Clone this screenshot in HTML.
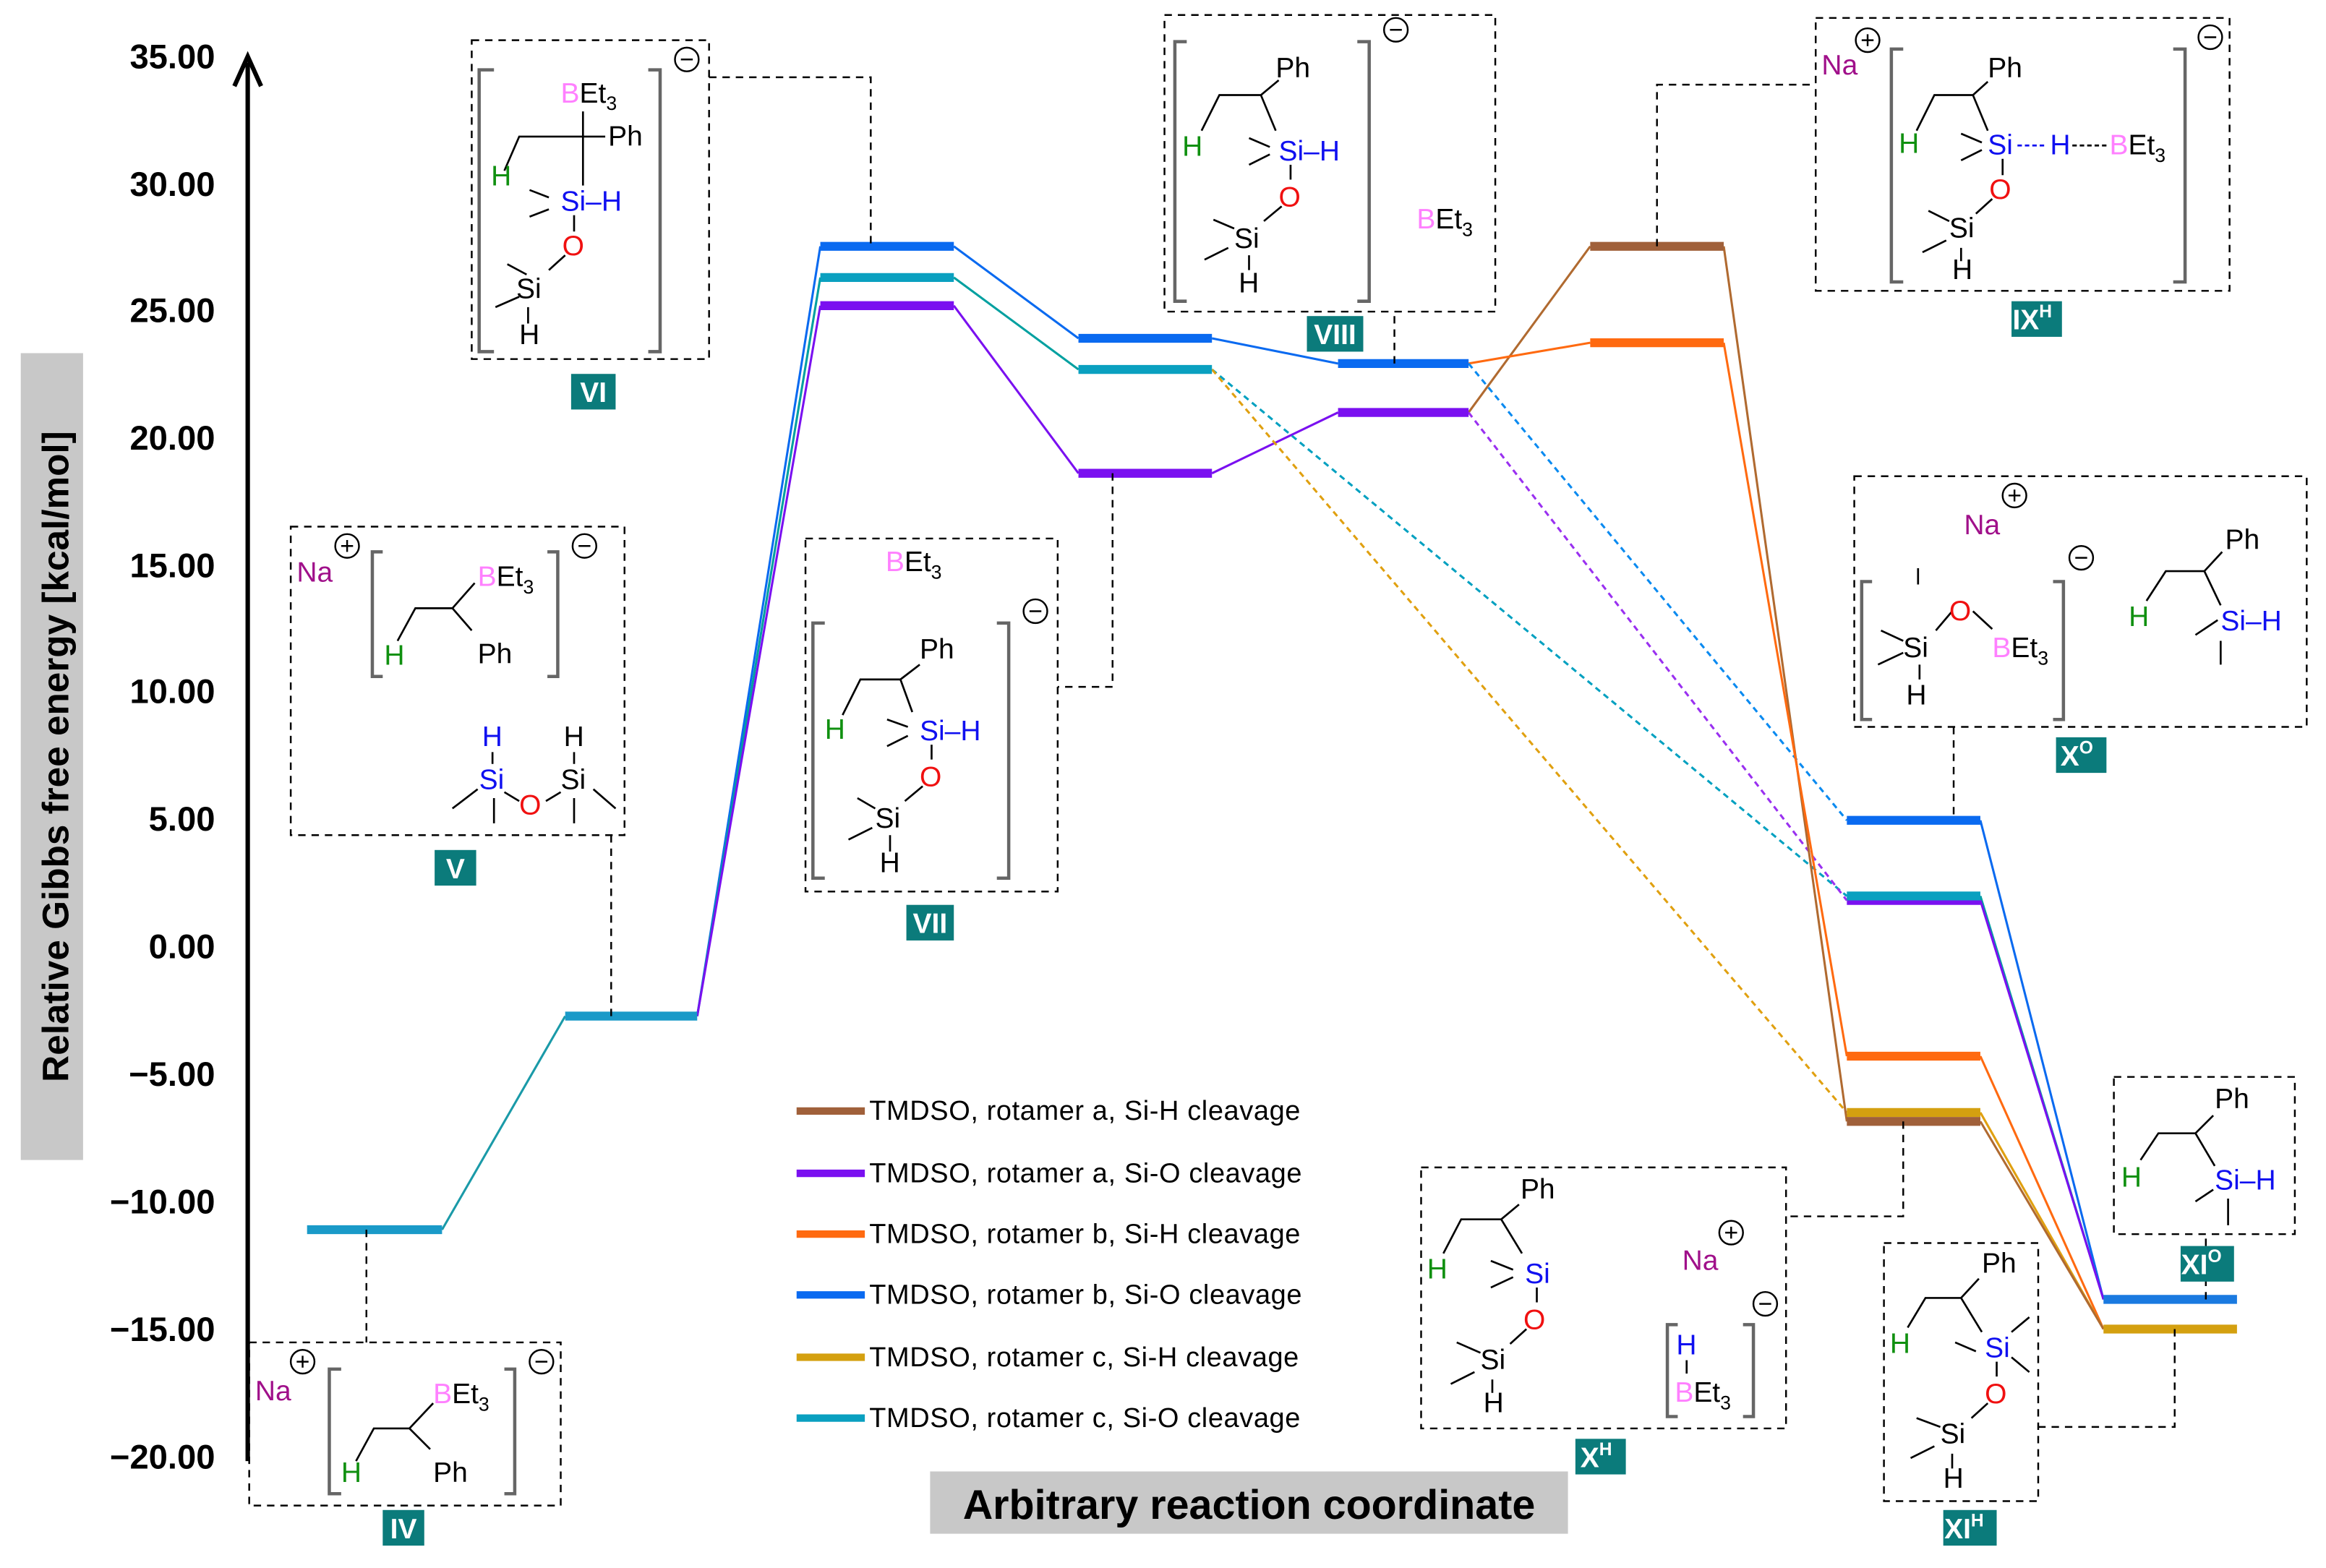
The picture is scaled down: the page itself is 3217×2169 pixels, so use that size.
<!DOCTYPE html>
<html><head><meta charset="utf-8"><style>
html,body{margin:0;padding:0;background:#fff}
svg{display:block}
text{font-family:"Liberation Sans",Arial,sans-serif}
.tk{font-size:23px;font-weight:bold;fill:#000}
.s{font-size:19px;fill:#000}
.g{fill:#109010}.b{fill:#1010f0}.r{fill:#f01010}.p{fill:#ff80ff}.n{fill:#a0108a}
.sub{font-size:13px}
.bx{fill:none;stroke:#000;stroke-width:1.2;stroke-dasharray:5,4}
.br{fill:none;stroke:#666;stroke-width:2.2}
.bd{stroke:#000;stroke-width:1.3;fill:none}
.lg{font-size:18.5px;fill:#000;letter-spacing:0.3px}
.lab{fill:#0b7b7b}
.lt{font-size:19px;font-weight:bold;fill:#fff}
.dc{fill:none;stroke:#000;stroke-width:1.2;stroke-dasharray:5,4}
</style></head><body>
<svg width="3217" height="2169" viewBox="0 0 1568 1057" xmlns="http://www.w3.org/2000/svg">
<rect width="1568" height="1057" fill="#fff"/>
<line x1="167" y1="985" x2="167" y2="42" stroke="#000" stroke-width="3"/>
<path d="M158,58 L167,38 L176,58" fill="none" stroke="#000" stroke-width="3"/>
<g class="tk" text-anchor="end">
<text x="145" y="46">35.00</text><text x="145" y="132">30.00</text><text x="145" y="217">25.00</text>
<text x="145" y="303">20.00</text><text x="145" y="389">15.00</text><text x="145" y="474">10.00</text>
<text x="145" y="560">5.00</text><text x="145" y="646">0.00</text><text x="145" y="732">−5.00</text>
<text x="145" y="818">−10.00</text><text x="145" y="904">−15.00</text><text x="145" y="990">−20.00</text>
</g>
<rect x="14" y="238" width="42" height="544" fill="#c8c8c8"/>
<text transform="translate(46,510) rotate(-90)" text-anchor="middle" style="font-size:25px;font-weight:bold">Relative Gibbs free energy [kcal/mol]</text>
<rect x="627" y="992" width="430" height="42" fill="#c8c8c8"/>
<text x="842" y="1024" text-anchor="middle" style="font-size:28px;font-weight:bold">Arbitrary reaction coordinate</text>

<g fill="none" stroke-width="1.5">
<line x1="298" y1="829" x2="381" y2="685" stroke="#1a9aa8"/>
<line x1="470" y1="685" x2="553" y2="166" stroke="#0a6af0"/>
<line x1="470" y1="685" x2="553" y2="187" stroke="#00a0a0"/>
<line x1="470" y1="685" x2="553" y2="206" stroke="#7a10f0"/>
<line x1="643" y1="166" x2="727" y2="228" stroke="#0a6af0"/>
<line x1="643" y1="187" x2="727" y2="249" stroke="#00a0a0"/>
<line x1="643" y1="206" x2="727" y2="319" stroke="#7a10f0"/>
<line x1="817" y1="228" x2="902" y2="245" stroke="#0a6af0"/>
<line x1="817" y1="319" x2="902" y2="278" stroke="#7a10f0"/>
<line x1="817" y1="249" x2="1245" y2="604" stroke="#00a0c0" stroke-dasharray="4,3"/>
<line x1="817" y1="249" x2="1245" y2="750" stroke="#e0a010" stroke-dasharray="4,3"/>
<line x1="990" y1="278" x2="1072" y2="166" stroke="#b06a30"/>
<line x1="990" y1="245" x2="1072" y2="231" stroke="#ff6a10"/>
<line x1="990" y1="245" x2="1245" y2="553" stroke="#0a8af0" stroke-dasharray="4,3"/>
<line x1="990" y1="278" x2="1245" y2="607" stroke="#9a30f0" stroke-dasharray="4,3"/>
<line x1="1162" y1="166" x2="1245" y2="756" stroke="#b06a30"/>
<line x1="1162" y1="231" x2="1245" y2="712" stroke="#ff6a10"/>
<line x1="1335" y1="553" x2="1418" y2="876" stroke="#0a6af0"/>
<line x1="1335" y1="604" x2="1418" y2="876" stroke="#00a0a0"/>
<line x1="1335" y1="607" x2="1418" y2="876" stroke="#7a10f0"/>
<line x1="1335" y1="712" x2="1418" y2="896" stroke="#ff6a10"/>
<line x1="1335" y1="750" x2="1418" y2="896" stroke="#e0a010"/>
<line x1="1335" y1="756" x2="1418" y2="896" stroke="#b06a30"/>
</g>
<g stroke-width="6">
<line x1="207" y1="829" x2="298" y2="829" stroke="#1a9ac8"/>
<line x1="381" y1="685" x2="470" y2="685" stroke="#1a9ac8"/>
<line x1="553" y1="166" x2="643" y2="166" stroke="#0a6af0"/>
<line x1="553" y1="187" x2="643" y2="187" stroke="#0aa0c0"/>
<line x1="553" y1="206" x2="643" y2="206" stroke="#7a10f0"/>
<line x1="727" y1="228" x2="817" y2="228" stroke="#0a6af0"/>
<line x1="727" y1="249" x2="817" y2="249" stroke="#0aa0c0"/>
<line x1="727" y1="319" x2="817" y2="319" stroke="#7a10f0"/>
<line x1="902" y1="245" x2="990" y2="245" stroke="#0a6af0"/>
<line x1="902" y1="278" x2="990" y2="278" stroke="#7a10f0"/>
<line x1="1072" y1="166" x2="1162" y2="166" stroke="#a0603a"/>
<line x1="1072" y1="231" x2="1162" y2="231" stroke="#ff6a10"/>
<line x1="1245" y1="553" x2="1335" y2="553" stroke="#0a6af0"/>
<line x1="1245" y1="607" x2="1335" y2="607" stroke="#7a10f0"/>
<line x1="1245" y1="604" x2="1335" y2="604" stroke="#0aa0c0"/>
<line x1="1245" y1="712" x2="1335" y2="712" stroke="#ff6a10"/>
<line x1="1245" y1="750" x2="1335" y2="750" stroke="#d4a010"/>
<line x1="1245" y1="756" x2="1335" y2="756" stroke="#a0603a"/>
<line x1="1418" y1="876" x2="1508" y2="876" stroke="#1a7ae0"/>
<line x1="1418" y1="896" x2="1508" y2="896" stroke="#d4a010"/>
</g>

<g stroke-width="5">
<line x1="537" y1="749" x2="583" y2="749" stroke="#a0603a"/>
<line x1="537" y1="791" x2="583" y2="791" stroke="#7a10f0"/>
<line x1="537" y1="832" x2="583" y2="832" stroke="#ff6a10"/>
<line x1="537" y1="873" x2="583" y2="873" stroke="#0a6af0"/>
<line x1="537" y1="915" x2="583" y2="915" stroke="#d4a010"/>
<line x1="537" y1="956" x2="583" y2="956" stroke="#0aa0c0"/>
</g>
<g class="lg">
<text x="586" y="755">TMDSO, rotamer a, Si-H cleavage</text>
<text x="586" y="797">TMDSO, rotamer a, Si-O cleavage</text>
<text x="586" y="838">TMDSO, rotamer b, Si-H cleavage</text>
<text x="586" y="879">TMDSO, rotamer b, Si-O cleavage</text>
<text x="586" y="921">TMDSO, rotamer c, Si-H cleavage</text>
<text x="586" y="962">TMDSO, rotamer c, Si-O cleavage</text>
</g>

<path class="dc" d="M247,829 V905"/>
<path class="dc" d="M412,685 V563"/>
<path class="dc" d="M478,52 H587 V166"/>
<path class="dc" d="M750,319 V463 H713"/>
<path class="dc" d="M940,245 V210"/>
<path class="dc" d="M1117,166 V57 H1224"/>
<path class="dc" d="M1317,490 V553"/>
<path class="dc" d="M1283,756 V820 H1204"/>
<path class="dc" d="M1374,962 H1466 V896"/>
<path class="dc" d="M1487,876 V832"/>

<rect class="bx" x="318" y="27" width="160" height="215"/>
<rect class="bx" x="196" y="355" width="225" height="208"/>
<rect class="bx" x="543" y="363" width="170" height="238"/>
<rect class="bx" x="785" y="10" width="223" height="200"/>
<rect class="bx" x="1224" y="12" width="279" height="184"/>
<rect class="bx" x="1250" y="321" width="305" height="169"/>
<rect class="bx" x="958" y="787" width="246" height="176"/>
<rect class="bx" x="1270" y="838" width="104" height="174"/>
<rect class="bx" x="1425" y="726" width="122" height="106"/>
<rect class="bx" x="168" y="905" width="210" height="110"/>

<g>
<rect class="lab" x="385" y="252" width="30" height="24"/><text class="lt" x="400" y="271" text-anchor="middle">VI</text>
<rect class="lab" x="293" y="573" width="28" height="24"/><text class="lt" x="307" y="592" text-anchor="middle">V</text>
<rect class="lab" x="611" y="610" width="32" height="24"/><text class="lt" x="627" y="629" text-anchor="middle">VII</text>
<rect class="lab" x="881" y="213" width="38" height="24"/><text class="lt" x="900" y="232" text-anchor="middle">VIII</text>
<rect class="lab" x="1356" y="203" width="34" height="24"/><text class="lt" x="1370" y="222" text-anchor="middle">IX<tspan font-size="12" dy="-8">H</tspan></text>
<rect class="lab" x="1386" y="497" width="34" height="24"/><text class="lt" x="1400" y="516" text-anchor="middle">X<tspan font-size="12" dy="-8">O</tspan></text>
<rect class="lab" x="1062" y="970" width="34" height="24"/><text class="lt" x="1076" y="989" text-anchor="middle">X<tspan font-size="12" dy="-8">H</tspan></text>
<rect class="lab" x="1310" y="1018" width="36" height="24"/><text class="lt" x="1324" y="1037" text-anchor="middle">XI<tspan font-size="12" dy="-8">H</tspan></text>
<rect class="lab" x="1470" y="840" width="36" height="24"/><text class="lt" x="1484" y="859" text-anchor="middle">XI<tspan font-size="12" dy="-8">O</tspan></text>
<rect class="lab" x="258" y="1018" width="28" height="24"/><text class="lt" x="272" y="1037" text-anchor="middle">IV</text>
</g>

<g fill="none" stroke="#000" stroke-width="1.2">
<circle cx="463" cy="40" r="8"/><line x1="459" y1="40" x2="467" y2="40"/>
<circle cx="394" cy="368" r="8"/><line x1="390" y1="368" x2="398" y2="368"/>
<circle cx="234" cy="368" r="8"/><line x1="230" y1="368" x2="238" y2="368"/><line x1="234" y1="364" x2="234" y2="372"/>
<circle cx="698" cy="412" r="8"/><line x1="694" y1="412" x2="702" y2="412"/>
<circle cx="941" cy="20" r="8"/><line x1="937" y1="20" x2="945" y2="20"/>
<circle cx="1259" cy="27" r="8"/><line x1="1255" y1="27" x2="1263" y2="27"/><line x1="1259" y1="23" x2="1259" y2="31"/>
<circle cx="1490" cy="25" r="8"/><line x1="1486" y1="25" x2="1494" y2="25"/>
<circle cx="1358" cy="334" r="8"/><line x1="1354" y1="334" x2="1362" y2="334"/><line x1="1358" y1="330" x2="1358" y2="338"/>
<circle cx="1403" cy="376" r="8"/><line x1="1399" y1="376" x2="1407" y2="376"/>
<circle cx="1167" cy="831" r="8"/><line x1="1163" y1="831" x2="1171" y2="831"/><line x1="1167" y1="827" x2="1167" y2="835"/>
<circle cx="1190" cy="879" r="8"/><line x1="1186" y1="879" x2="1194" y2="879"/>
<circle cx="204" cy="918" r="8"/><line x1="200" y1="918" x2="208" y2="918"/><line x1="204" y1="914" x2="204" y2="922"/>
<circle cx="365" cy="918" r="8"/><line x1="361" y1="918" x2="369" y2="918"/>
</g>

<path class="br" d="M333,47 H323 V237 H333 M437,47 H445 V237 H437"/>
<text class="s" x="378" y="69"><tspan class="p">B</tspan>Et<tspan class="sub" dy="5">3</tspan></text>
<text class="s" x="410" y="98">Ph</text>
<path class="bd" d="M340,115 L350,92 H408 M393,75 V125"/>
<text class="s g" x="331" y="125">H</text>
<path class="bd" d="M357,128 L370,133 M357,146 L370,141"/>
<text class="s b" x="378" y="142">Si–H</text>
<line class="bd" x1="387" y1="145" x2="387" y2="156"/>
<text class="s r" x="379" y="172">O</text>
<path class="bd" d="M381,172 L370,182 M342,178 L355,185 M334,207 L350,200 M356,207 V218"/>
<text class="s" x="348" y="201">Si</text>
<text class="s" x="350" y="232">H</text>

<text class="s n" x="200" y="392">Na</text>
<path class="br" d="M258,372 H251 V456 H258 M369,372 H376 V456 H369"/>
<text class="s" x="322" y="395"><tspan class="p">B</tspan>Et<tspan class="sub" dy="5">3</tspan></text>
<path class="bd" d="M268,432 L280,410 H305 L318,425 M305,410 L320,393"/>
<text class="s g" x="259" y="448">H</text>
<text class="s" x="322" y="447">Ph</text>
<text class="s b" x="325" y="503">H</text>
<text class="s b" x="323" y="532">Si</text>
<text class="s r" x="350" y="549">O</text>
<text class="s" x="378" y="532">Si</text>
<text class="s" x="380" y="503">H</text>
<path class="bd" d="M332,507 V515 M387,507 V515 M305,545 L322,532 M333,538 V555 M340,534 L350,540 M368,540 L378,534 M387,538 V555 M400,532 L415,545"/>

<text class="s" x="597" y="385"><tspan class="p">B</tspan>Et<tspan class="sub" dy="5">3</tspan></text>
<path class="br" d="M556,420 H548 V592 H556 M672,420 H680 V592 H672"/>
<text class="s" x="620" y="444">Ph</text>
<path class="bd" d="M568,482 L580,458 H607 L620,448 M607,458 L615,480"/>
<text class="s g" x="556" y="498">H</text>
<path class="bd" d="M598,485 L612,490 M598,503 L612,496"/>
<text class="s b" x="620" y="499">Si–H</text>
<line class="bd" x1="628" y1="502" x2="628" y2="512"/>
<text class="s r" x="620" y="530">O</text>
<path class="bd" d="M622,530 L610,540 M578,538 L590,545 M572,566 L588,558 M600,563 V574"/>
<text class="s" x="590" y="558">Si</text>
<text class="s" x="593" y="588">H</text>

<path class="br" d="M800,28 H792 V203 H800 M915,28 H923 V203 H915"/>
<text class="s" x="860" y="52">Ph</text>
<path class="bd" d="M810,88 L822,64 H850 L862,54 M850,64 L860,88"/>
<text class="s g" x="797" y="105">H</text>
<path class="bd" d="M842,93 L856,99 M842,111 L856,104"/>
<text class="s b" x="862" y="108">Si–H</text>
<line class="bd" x1="870" y1="111" x2="870" y2="121"/>
<text class="s r" x="862" y="139">O</text>
<path class="bd" d="M864,139 L852,149 M818,148 L832,154 M812,175 L828,167 M842,172 V182"/>
<text class="s" x="832" y="167">Si</text>
<text class="s" x="835" y="197">H</text>
<text class="s" x="955" y="154"><tspan class="p">B</tspan>Et<tspan class="sub" dy="5">3</tspan></text>

<text class="s n" x="1228" y="50">Na</text>
<path class="br" d="M1283,33 H1275 V190 H1283 M1465,33 H1473 V190 H1465"/>
<text class="s" x="1340" y="52">Ph</text>
<path class="bd" d="M1292,88 L1304,64 H1330 L1340,55 M1330,64 L1340,88"/>
<text class="s g" x="1280" y="103">H</text>
<path class="bd" d="M1322,90 L1336,96 M1322,108 L1336,101"/>
<text class="s b" x="1340" y="104">Si</text>
<line x1="1360" y1="98" x2="1380" y2="98" stroke="#1010f0" stroke-width="1.3" stroke-dasharray="3,2"/>
<text class="s b" x="1382" y="104">H</text>
<line x1="1397" y1="98" x2="1420" y2="98" stroke="#000" stroke-width="1.3" stroke-dasharray="3,2"/>
<text class="s" x="1422" y="104"><tspan class="p">B</tspan>Et<tspan class="sub" dy="5">3</tspan></text>
<line class="bd" x1="1350" y1="107" x2="1350" y2="118"/>
<text class="s r" x="1341" y="134">O</text>
<path class="bd" d="M1343,134 L1332,144 M1300,142 L1314,149 M1296,170 L1312,162 M1322,167 V176"/>
<text class="s" x="1314" y="160">Si</text>
<text class="s" x="1316" y="188">H</text>

<text class="s n" x="1324" y="360">Na</text>
<path class="br" d="M1262,392 H1255 V485 H1262 M1384,392 H1391 V485 H1384"/>
<path class="bd" d="M1293,383 V394 M1268,425 L1283,432 M1266,448 L1283,440 M1294,448 V458 M1305,425 L1316,412 M1330,412 L1343,424"/>
<text class="s" x="1283" y="443">Si</text>
<text class="s r" x="1314" y="418">O</text>
<text class="s" x="1343" y="443"><tspan class="p">B</tspan>Et<tspan class="sub" dy="5">3</tspan></text>
<text class="s" x="1285" y="475">H</text>
<text class="s" x="1500" y="370">Ph</text>
<path class="bd" d="M1447,405 L1460,385 H1486 L1498,372 M1486,385 L1497,408 M1480,428 L1495,418 M1497,432 V448"/>
<text class="s g" x="1435" y="422">H</text>
<text class="s b" x="1497" y="425">Si–H</text>

<text class="s" x="1025" y="808">Ph</text>
<path class="bd" d="M973,845 L985,822 H1012 L1024,812 M1012,822 L1026,845"/>
<text class="s g" x="962" y="862">H</text>
<path class="bd" d="M1005,850 L1020,856 M1005,868 L1020,861"/>
<text class="s b" x="1028" y="865">Si</text>
<line class="bd" x1="1036" y1="868" x2="1036" y2="878"/>
<text class="s r" x="1027" y="896">O</text>
<path class="bd" d="M1029,896 L1018,906 M982,905 L998,912 M978,933 L994,925 M1006,930 V939"/>
<text class="s" x="998" y="923">Si</text>
<text class="s" x="1000" y="952">H</text>
<text class="s n" x="1134" y="856">Na</text>
<path class="br" d="M1131,893 H1124 V955 H1131 M1175,893 H1182 V955 H1175"/>
<text class="s b" x="1130" y="913">H</text>
<line class="bd" x1="1137" y1="917" x2="1137" y2="926"/>
<text class="s" x="1129" y="945"><tspan class="p">B</tspan>Et<tspan class="sub" dy="5">3</tspan></text>

<text class="s" x="1336" y="858">Ph</text>
<path class="bd" d="M1286,895 L1298,875 H1322 L1334,862 M1322,875 L1336,898 M1356,898 L1368,888 M1356,915 L1368,925"/>
<text class="s g" x="1274" y="912">H</text>
<path class="bd" d="M1318,905 L1332,911"/>
<text class="s b" x="1338" y="915">Si</text>
<line class="bd" x1="1346" y1="918" x2="1346" y2="928"/>
<text class="s r" x="1338" y="946">O</text>
<path class="bd" d="M1340,946 L1329,956 M1292,956 L1308,962 M1288,983 L1304,975 M1316,980 V990"/>
<text class="s" x="1308" y="973">Si</text>
<text class="s" x="1310" y="1003">H</text>

<text class="s" x="1493" y="747">Ph</text>
<path class="bd" d="M1443,782 L1455,764 H1480 L1492,752 M1480,764 L1493,786 M1480,810 L1492,802 M1502,808 V826"/>
<text class="s g" x="1430" y="800">H</text>
<text class="s b" x="1493" y="802">Si–H</text>

<text class="s n" x="172" y="944">Na</text>
<path class="br" d="M230,923 H222 V1007 H230 M340,923 H347 V1007 H340"/>
<text class="s" x="292" y="946"><tspan class="p">B</tspan>Et<tspan class="sub" dy="5">3</tspan></text>
<path class="bd" d="M240,985 L252,963 H276 L290,977 M276,963 L292,946"/>
<text class="s g" x="230" y="999">H</text>
<text class="s" x="292" y="999">Ph</text>
</svg>
</body></html>
